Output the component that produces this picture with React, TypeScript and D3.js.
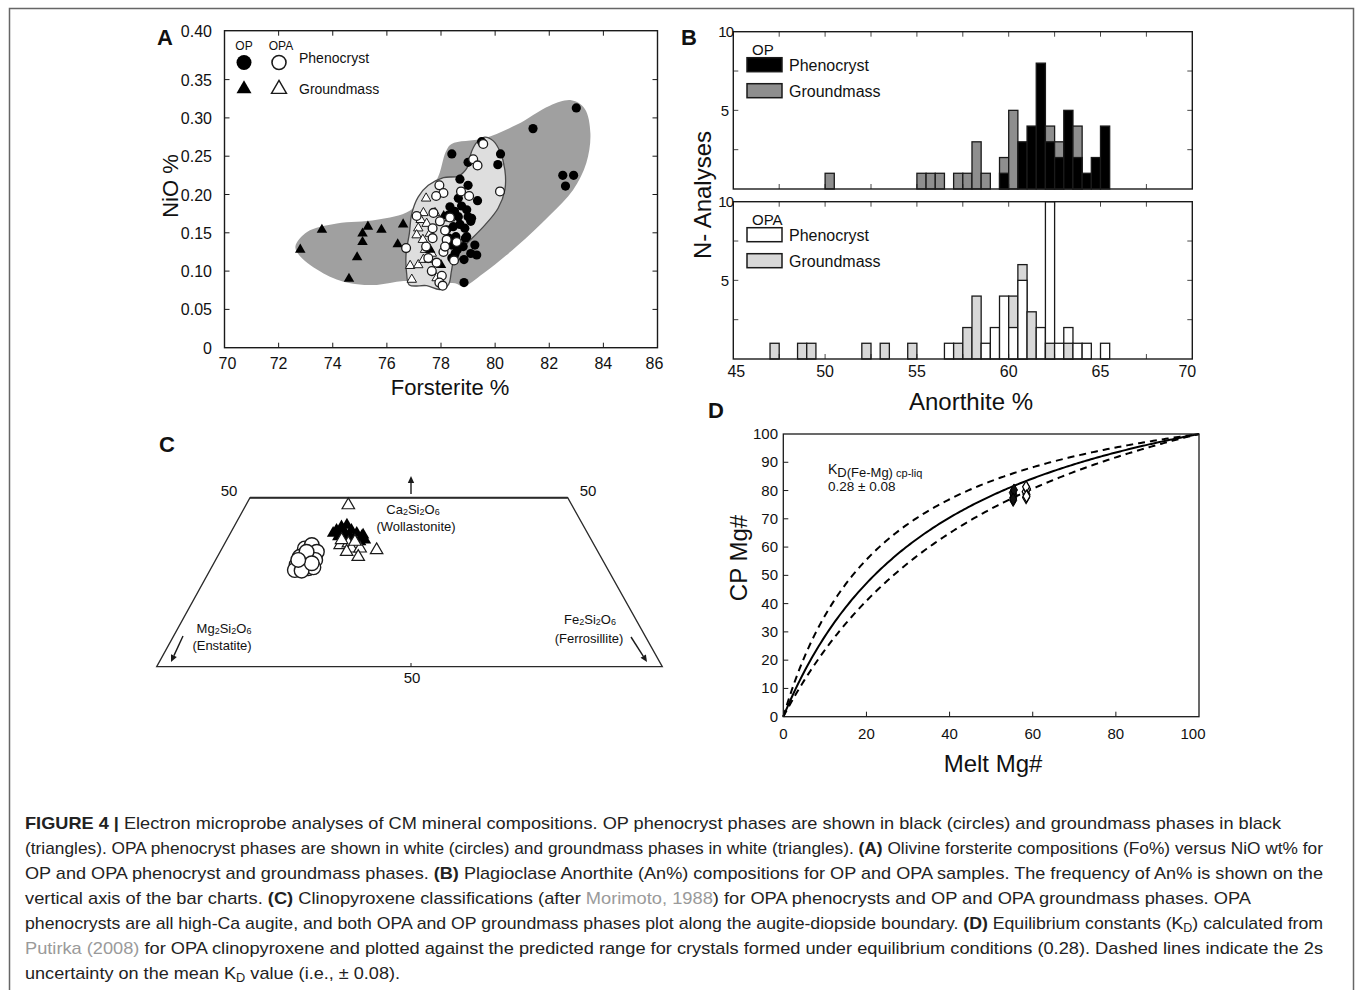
import * as d3 from "d3";

const FONT = "'Liberation Sans', Arial, Helvetica, sans-serif";
const INK = "#1a1a1a";

// ---------- A: olivine forsterite vs NiO ----------
// [Fo %, NiO %]
const opPhenocrystA = [
  [81.4, 0.286], [83.0, 0.313], [82.5, 0.225], [82.9, 0.225], [82.6, 0.211],
  [78.4, 0.253], [79.5, 0.269], [80.2, 0.253], [80.1, 0.239], [79.0, 0.242],
  [78.7, 0.22], [79.0, 0.212], [79.35, 0.192], [79.0, 0.171], [79.1, 0.165],
  [78.9, 0.143], [79.1, 0.123], [78.85, 0.115], [78.85, 0.085],
  [78.76, 0.185], [78.95, 0.18], [78.64, 0.171], [79.13, 0.169], [78.88, 0.156],
  [78.45, 0.158], [78.55, 0.145], [78.95, 0.145], [78.82, 0.132], [78.39, 0.134],
  [78.52, 0.123], [79.25, 0.134], [79.32, 0.121], [78.27, 0.173], [78.33, 0.184],
  [78.64, 0.195], [78.21, 0.154], [78.5, 0.178], [78.7, 0.161], [78.3, 0.143],
  [78.6, 0.128], [78.4, 0.117],
];
const opGroundmassA = [
  [72.8, 0.128], [73.6, 0.154], [74.6, 0.09], [74.9, 0.118], [75.1, 0.138],
  [75.1, 0.149], [75.3, 0.158], [75.8, 0.154], [76.4, 0.135], [76.6, 0.161],
  [78.0, 0.108], [77.6, 0.128], [78.1, 0.172],
];
const opaPhenocrystA = [
  [79.56, 0.266], [79.19, 0.246], [79.35, 0.238], [80.18, 0.204], [78.74, 0.204],
  [79.04, 0.198], [77.94, 0.212], [78.09, 0.202], [77.82, 0.198], [77.1, 0.172],
  [77.72, 0.176], [77.96, 0.165], [78.33, 0.17], [77.69, 0.156], [78.15, 0.153],
  [77.69, 0.143], [77.45, 0.132], [76.71, 0.13], [78.58, 0.138], [78.09, 0.125],
  [78.48, 0.114], [77.84, 0.111], [77.66, 0.1], [78.03, 0.094], [77.94, 0.085],
  [78.06, 0.081], [77.53, 0.117], [78.21, 0.141], [78.15, 0.132],
];
const opaGroundmassA = [
  [77.45, 0.195], [77.35, 0.176], [77.25, 0.167], [77.16, 0.156], [77.1, 0.147],
  [77.33, 0.141], [77.59, 0.149], [77.47, 0.162], [76.86, 0.107], [77.16, 0.108],
  [77.35, 0.115], [77.57, 0.115], [76.92, 0.089], [77.78, 0.176], [78.33, 0.169],
  [78.52, 0.119], [77.84, 0.091], [77.66, 0.123], [77.41, 0.128],
];
// hand-drawn fields around the OP and OPA data
const opField = [
  [72.62, 0.132], [73.05, 0.151], [74.15, 0.162], [75.63, 0.167], [76.86, 0.179],
  [77.84, 0.219], [78.18, 0.256], [78.39, 0.266], [79.56, 0.273], [80.79, 0.291],
  [82.02, 0.316], [82.82, 0.323], [83.31, 0.312], [83.52, 0.28], [83.37, 0.241],
  [82.88, 0.206], [82.02, 0.173], [80.79, 0.132], [79.56, 0.097], [78.82, 0.08],
  [78.52, 0.084], [77.72, 0.084], [76.61, 0.087], [75.63, 0.082], [74.65, 0.084],
  [73.66, 0.097], [72.8, 0.119],
];
const opaField = [
  [79.62, 0.275], [79.32, 0.268], [79.13, 0.256], [78.95, 0.234], [78.64, 0.224],
  [78.09, 0.222], [77.53, 0.212], [77.16, 0.197], [76.92, 0.175], [76.83, 0.149],
  [76.71, 0.123], [76.73, 0.097], [76.83, 0.082], [77.47, 0.081], [77.96, 0.076],
  [78.27, 0.082], [78.39, 0.101], [78.52, 0.121], [78.95, 0.136], [79.62, 0.16],
  [80.11, 0.182], [80.36, 0.206], [80.36, 0.232], [80.18, 0.256], [79.93, 0.27],
];
const foTicks = [70, 72, 74, 76, 78, 80, 82, 84, 86];
const nioTicks = [0, 0.05, 0.1, 0.15, 0.2, 0.25, 0.3, 0.35, 0.4];
const nioLabels = ["0", "0.05", "0.10", "0.15", "0.20", "0.25", "0.30", "0.35", "0.40"];

// ---------- B: plagioclase An% histograms, [bin start, count], bins 0.5 An% ----------
const opPhenocrystB = [
  [59.5, 1], [60.5, 3], [61, 4], [61.5, 8], [62, 3], [62.5, 2], [63, 5], [63.5, 2],
  [64, 1], [64.5, 2], [65, 4],
];
const opGroundmassB = [
  [50, 1], [55, 1], [55.5, 1], [56, 1], [57, 1], [57.5, 1], [58, 3], [58.5, 1],
  [59.5, 2], [60, 5], [62, 4], [62.5, 3], [63.5, 4],
];
const opaPhenocrystB = [
  [56.5, 1], [58.5, 1], [59, 2], [59.5, 4], [60, 2], [60.5, 5], [61.5, 2], [62, 10],
  [62.5, 1], [63, 2], [63.5, 1], [64, 1], [65, 1],
];
const opaGroundmassB = [
  [47, 1], [48.5, 1], [49, 1], [52, 1], [53, 1], [54.5, 1], [57, 1], [57.5, 2],
  [58, 4], [60, 4], [60.5, 6], [61, 3], [62, 1], [63, 1],
];
const anLabels = [45, 50, 55, 60, 65, 70];
const anMinorTicks = [47.5, 50, 52.5, 55, 57.5, 60, 62.5, 65, 67.5];
const countLabels = [5, 10];
const countTicks = [2.5, 5, 7.5];

// ---------- C: pyroxene quadrilateral, [Wo, En, Fs] ----------
const opaPhenocrystC = [
  [35.0, 50.6, 14.4], [36.0, 48.8, 15.2], [34.0, 49.1, 16.9], [32.5, 53.0, 14.5],
  [32.5, 51.5, 16.0], [31.6, 50.8, 17.6], [30.6, 53.5, 15.9], [30.1, 55.0, 14.9],
  [29.1, 53.5, 17.4], [29.4, 52.4, 18.2], [28.6, 56.2, 15.2], [28.4, 55.1, 16.5],
  [34.0, 50.9, 15.1], [30.6, 52.0, 17.4], [31.6, 53.8, 14.6],
];
const opGroundmassC = [
  [40.4, 42.0, 17.6], [41.4, 40.6, 18.0], [41.9, 39.4, 18.7], [40.4, 39.5, 20.1],
  [39.5, 39.1, 21.4], [38.5, 38.8, 22.7], [37.5, 38.8, 23.7], [38.5, 42.8, 18.7],
  [39.0, 41.4, 19.6], [38.5, 40.8, 20.7], [37.5, 40.5, 22.0], [37.0, 39.9, 23.1],
  [39.5, 43.1, 17.4], [40.4, 40.9, 18.7], [39.0, 38.3, 22.7],
];
const opaGroundmassC = [
  [47.8, 35.8, 16.4], [34.5, 38.4, 27.1], [36.0, 43.9, 20.1], [36.5, 42.2, 21.3],
  [35.0, 42.5, 22.5], [35.0, 41.0, 24.0], [34.0, 43.9, 22.1], [32.5, 42.7, 24.8],
  [37.5, 42.8, 19.7], [37.0, 40.8, 22.2],
];

// ---------- D: Fe-Mg exchange, [melt Mg#, cpx Mg#] ----------
const kdMean = 0.28;
const kdUncertainty = 0.08;
const opaCpxLowMelt = [
  [55.3, 76.5], [55.3, 77.5], [55.4, 78.5], [55.2, 79.3], [55.5, 80.2], [55.3, 77.0],
];
const opaCpxHighMelt = [
  [58.4, 77.5], [58.5, 78.6], [58.3, 79.6], [58.6, 80.6], [58.4, 81.3], [58.5, 78.0],
];
const mgTicks = [0, 20, 40, 60, 80, 100];
const cpTicks = [0, 10, 20, 30, 40, 50, 60, 70, 80, 90, 100];

// ---------- caption ----------
type Seg = { t: string; s?: "b" | "link" | "sub" };
const captionLines: { segs: Seg[]; width: number }[] = [
  { width: 1256, segs: [{ t: "FIGURE 4 | ", s: "b" }, { t: "Electron microprobe analyses of CM mineral compositions. OP phenocryst phases are shown in black (circles) and groundmass phases in black" }] },
  { width: 1298, segs: [{ t: "(triangles). OPA phenocryst phases are shown in white (circles) and groundmass phases in white (triangles). " }, { t: "(A)", s: "b" }, { t: " Olivine forsterite compositions (Fo%) versus NiO wt% for" }] },
  { width: 1298, segs: [{ t: "OP and OPA phenocryst and groundmass phases. " }, { t: "(B)", s: "b" }, { t: " Plagioclase Anorthite (An%) compositions for OP and OPA samples. The frequency of An% is shown on the" }] },
  { width: 1226, segs: [{ t: "vertical axis of the bar charts. " }, { t: "(C)", s: "b" }, { t: " Clinopyroxene classifications (after " }, { t: "Morimoto, 1988", s: "link" }, { t: ") for OPA phenocrysts and OP and OPA groundmass phases. OPA" }] },
  { width: 1298, segs: [{ t: "phenocrysts are all high-Ca augite, and both OPA and OP groundmass phases plot along the augite-diopside boundary. " }, { t: "(D)", s: "b" }, { t: " Equilibrium constants (K" }, { t: "D", s: "sub" }, { t: ") calculated from" }] },
  { width: 1298, segs: [{ t: "Putirka (2008)", s: "link" }, { t: " for OPA clinopyroxene and plotted against the predicted range for crystals formed under equilibrium conditions (0.28). Dashed lines indicate the 2s" }] },
  { width: 375, segs: [{ t: "uncertainty on the mean K" }, { t: "D", s: "sub" }, { t: " value (i.e., ± 0.08)." }] },
];

const triPath = (side: number) =>
  d3.symbol().type(d3.symbolTriangle).size((side * side * Math.sqrt(3)) / 4)() as string;

function PanelA() {
  const x = d3.scaleLinear().domain([70, 86]).range([224.5, 657.5]);
  const y = d3.scaleLinear().domain([0, 0.4]).range([347.7, 41.3]);
  const top = 30.7;
  const [x0, x1] = x.range();
  const bottom = y(0);
  const blob = d3
    .line<number[]>()
    .x((d) => x(d[0]))
    .y((d) => y(d[1]))
    .curve(d3.curveCatmullRomClosed.alpha(0.5));
  const tri = triPath(10.5);
  const triOpen = triPath(9.5);
  const bigTri = triPath(15);
  return (
    <g>
      <path d={blob(opField) as string} fill="#a0a0a0" />
      <path d={blob(opaField) as string} fill="#dedede" stroke="#4a4a4a" strokeWidth={1.3} />
      {opaGroundmassA.map((d, i) => (
        <path key={"og" + i} d={triOpen} transform={`translate(${x(d[0])},${y(d[1])})`} fill="#fff" stroke={INK} strokeWidth={1} />
      ))}
      {opGroundmassA.map((d, i) => (
        <path key={"bg" + i} d={tri} transform={`translate(${x(d[0])},${y(d[1])})`} fill="#000" />
      ))}
      {opPhenocrystA.map((d, i) => (
        <circle key={"bp" + i} cx={x(d[0])} cy={y(d[1])} r={4.6} fill="#000" />
      ))}
      {opaPhenocrystA.map((d, i) => (
        <circle key={"op" + i} cx={x(d[0])} cy={y(d[1])} r={4.4} fill="#fff" stroke={INK} strokeWidth={1.3} />
      ))}
      <rect x={x0} y={top} width={x1 - x0} height={bottom - top} fill="none" stroke={INK} strokeWidth={1.4} />
      {foTicks.slice(1, -1).map((v) => (
        <g key={"fx" + v}>
          <line x1={x(v)} x2={x(v)} y1={bottom} y2={bottom - 5} stroke={INK} />
          <line x1={x(v)} x2={x(v)} y1={top} y2={top + 5} stroke={INK} />
        </g>
      ))}
      {nioTicks.slice(1, -1).map((v) => (
        <g key={"ny" + v}>
          <line x1={x0} x2={x0 + 5} y1={y(v)} y2={y(v)} stroke={INK} />
          <line x1={x1} x2={x1 - 5} y1={y(v)} y2={y(v)} stroke={INK} />
        </g>
      ))}
      {foTicks.map((v) => (
        <text key={"fl" + v} x={x(v) + (v === 70 ? 3 : v === 86 ? -3 : 0)} y={369} textAnchor="middle" fontSize={16}>
          {v}
        </text>
      ))}
      {nioTicks.map((v, i) => (
        <text key={"nl" + v} x={212} y={(i === nioTicks.length - 1 ? top : y(v)) + 6} textAnchor="end" fontSize={16}>
          {nioLabels[i]}
        </text>
      ))}
      <text x={450} y={395} textAnchor="middle" fontSize={22}>Forsterite %</text>
      <text transform="translate(178,186) rotate(-90)" textAnchor="middle" fontSize={22}>NiO %</text>
      <text x={157} y={45} fontSize={22} fontWeight="bold">A</text>
      {/* legend */}
      <text x={244} y={50} textAnchor="middle" fontSize={12}>OP</text>
      <text x={281} y={50} textAnchor="middle" fontSize={12}>OPA</text>
      <circle cx={244} cy={62.5} r={7.5} fill="#000" />
      <circle cx={279} cy={62.5} r={7} fill="#fff" stroke={INK} strokeWidth={1.6} />
      <path d={bigTri} transform="translate(244,89)" fill="#000" />
      <path d={bigTri} transform="translate(279,89)" fill="#fff" stroke={INK} strokeWidth={1.4} />
      <text x={299} y={63} fontSize={14}>Phenocryst</text>
      <text x={299} y={94} fontSize={14}>Groundmass</text>
    </g>
  );
}

function Histogram(props: {
  top: number;
  bottom: number;
  pheno: number[][];
  ground: number[][];
  phenoFill: string;
  groundFill: string;
  group: string;
}) {
  const { top, bottom, pheno, ground, phenoFill, groundFill, group } = props;
  const x = d3.scaleLinear().domain([45, 70]).range([733.3, 1192.3]);
  const y = d3.scaleLinear().domain([0, 10]).range([bottom, top]);
  const pm = new Map(pheno.map((d) => [d[0], d[1]] as [number, number]));
  const gm = new Map(ground.map((d) => [d[0], d[1]] as [number, number]));
  const bins = Array.from(new Set([...pm.keys(), ...gm.keys()])).sort(d3.ascending);
  const [x0, x1] = x.range();
  const lx = 747;
  const ly = top + 20;
  return (
    <g>
      {bins.map((b) => {
        // overlapping bars: the taller one behind, the shorter one in front
        const layers = [
          { v: pm.get(b) || 0, fill: phenoFill },
          { v: gm.get(b) || 0, fill: groundFill },
        ]
          .filter((l) => l.v > 0)
          .sort((a, c) => c.v - a.v);
        return layers.map((l, j) => (
          <rect
            key={b + "-" + j}
            x={x(b)}
            y={y(l.v)}
            width={x(b + 0.5) - x(b)}
            height={y(0) - y(l.v)}
            fill={l.fill}
            stroke={INK}
            strokeWidth={1.3}
          />
        ));
      })}
      <rect x={x0} y={top} width={x1 - x0} height={bottom - top} fill="none" stroke={INK} strokeWidth={1.4} />
      {anMinorTicks.map((v) => (
        <g key={"t" + v}>
          <line x1={x(v)} x2={x(v)} y1={top} y2={top + 5} stroke={INK} strokeWidth={0.8} />
          <line x1={x(v)} x2={x(v)} y1={bottom} y2={bottom - 5} stroke={INK} strokeWidth={0.8} />
        </g>
      ))}
      {countTicks.map((v) => (
        <g key={"c" + v}>
          <line x1={x0} x2={x0 + 5} y1={y(v)} y2={y(v)} stroke={INK} strokeWidth={0.8} />
          <line x1={x1} x2={x1 - 5} y1={y(v)} y2={y(v)} stroke={INK} strokeWidth={0.8} />
        </g>
      ))}
      {countLabels.map((v) => (
        <text key={"cl" + v} x={v === 10 ? 733 : 729} y={y(v) + 5.5} textAnchor="end" fontSize={15} letterSpacing={v === 10 ? -1 : 0}>
          {v}
        </text>
      ))}
      <text x={lx + 5} y={ly + 3} fontSize={15}>{group}</text>
      <rect x={lx} y={ly + 6} width={35} height={14} fill={phenoFill} stroke={INK} strokeWidth={1.5} />
      <text x={lx + 42} y={ly + 19} fontSize={16}>Phenocryst</text>
      <rect x={lx} y={ly + 32} width={35} height={14} fill={groundFill} stroke={INK} strokeWidth={1.5} />
      <text x={lx + 42} y={ly + 45} fontSize={16}>Groundmass</text>
    </g>
  );
}

function PanelB() {
  const x = d3.scaleLinear().domain([45, 70]).range([733.3, 1192.3]);
  return (
    <g>
      <Histogram top={31.7} bottom={189} pheno={opPhenocrystB} ground={opGroundmassB} phenoFill="#000" groundFill="#8e8e8e" group="OP" />
      <Histogram top={201.7} bottom={359} pheno={opaPhenocrystB} ground={opaGroundmassB} phenoFill="#fff" groundFill="#d8d8d8" group="OPA" />
      {anLabels.map((v) => (
        <text key={v} x={x(v) + (v === 45 ? 3 : v === 70 ? -5 : 0)} y={377} textAnchor="middle" fontSize={16}>
          {v}
        </text>
      ))}
      <text x={971} y={410} textAnchor="middle" fontSize={24}>Anorthite %</text>
      <text transform="translate(711,195) rotate(-90)" textAnchor="middle" fontSize={24}>N- Analyses</text>
      <text x={681} y={45} fontSize={22} fontWeight="bold">B</text>
    </g>
  );
}

function Arrow({ x1, y1, x2, y2 }: { x1: number; y1: number; x2: number; y2: number }) {
  const a = Math.atan2(y2 - y1, x2 - x1);
  const L = 7;
  const W = 3.2;
  const bx = x2 - L * Math.cos(a);
  const by = y2 - L * Math.sin(a);
  const px = -Math.sin(a) * W;
  const py = Math.cos(a) * W;
  return (
    <g>
      <line x1={x1} y1={y1} x2={bx} y2={by} stroke={INK} strokeWidth={1.4} />
      <path d={`M${x2},${y2}L${bx + px},${by + py}L${bx - px},${by - py}Z`} fill={INK} />
    </g>
  );
}

function Formula({ x, y, parts }: { x: number; y: number; parts: string[] }) {
  // parts alternate element symbol and subscript digit
  return (
    <text x={x} y={y} textAnchor="middle" fontSize={13}>
      {parts.map((p, i) =>
        i % 2 === 0 ? (
          <tspan key={i} dy={i > 0 ? -1 : 0}>{p}</tspan>
        ) : (
          <tspan key={i} fontSize={9} dy={1}>{p}</tspan>
        )
      )}
    </text>
  );
}

function PanelC() {
  const yRow = d3.scaleLinear().domain([0, 50]).range([666.7, 497.7]);
  const leftX = d3.scaleLinear().domain([0, 50]).range([156.7, 250]);
  const rightX = d3.scaleLinear().domain([0, 50]).range([662.3, 567.7]);
  const proj = (d: number[]) => {
    const f = d[2] / (d[1] + d[2]);
    const l = leftX(d[0]);
    const r = rightX(d[0]);
    return [l + (r - l) * f, yRow(d[0])];
  };
  const tri = triPath(12.5);
  const corners = [
    [leftX(50), yRow(50)],
    [rightX(50), yRow(50)],
    [rightX(0), yRow(0)],
    [leftX(0), yRow(0)],
  ];
  return (
    <g>
      <path d={"M" + corners.map((c) => c.join(",")).join("L") + "Z"} fill="none" stroke="#2a2a2a" strokeWidth={1.3} />
      <line x1={leftX(50)} x2={rightX(50)} y1={yRow(50)} y2={yRow(50)} stroke="#2a2a2a" strokeWidth={2} />
      {opaPhenocrystC.map((d, i) => {
        const [px, py] = proj(d);
        return <circle key={"c" + i} cx={px} cy={py} r={7.3} fill="#fff" stroke={INK} strokeWidth={1.4} />;
      })}
      {opGroundmassC.map((d, i) => {
        const [px, py] = proj(d);
        return <path key={"t" + i} d={tri} transform={`translate(${px},${py})`} fill="#000" />;
      })}
      {opaGroundmassC.map((d, i) => {
        const [px, py] = proj(d);
        return <path key={"o" + i} d={tri} transform={`translate(${px},${py})`} fill="#fff" stroke={INK} strokeWidth={1.2} />;
      })}
      <text x={229} y={496} textAnchor="middle" fontSize={15}>50</text>
      <text x={588} y={496} textAnchor="middle" fontSize={15}>50</text>
      <text x={412} y={683} textAnchor="middle" fontSize={15}>50</text>
      <line x1={411} x2={411} y1={666.7} y2={663} stroke={INK} />
      <Arrow x1={411} y1={494} x2={411} y2={476} />
      <Arrow x1={183} y1={636} x2={171} y2={662} />
      <Arrow x1={631} y1={637} x2={647} y2={662} />
      <Formula x={413} y={514} parts={["Ca", "2", "Si", "2", "O", "6"]} />
      <text x={416} y={531} textAnchor="middle" fontSize={13}>(Wollastonite)</text>
      <Formula x={224} y={633} parts={["Mg", "2", "Si", "2", "O", "6"]} />
      <text x={222} y={650} textAnchor="middle" fontSize={13}>(Enstatite)</text>
      <Formula x={590} y={624} parts={["Fe", "2", "Si", "2", "O", "6"]} />
      <text x={589} y={643} textAnchor="middle" fontSize={13}>(Ferrosillite)</text>
      <text x={159} y={452} fontSize={22} fontWeight="bold">C</text>
    </g>
  );
}

function PanelD() {
  const x = d3.scaleLinear().domain([0, 100]).range([783.3, 1199]);
  const y = d3.scaleLinear().domain([0, 100]).range([716.7, 434]);
  const [x0, x1] = x.range();
  const [y0, y1] = y.range();
  // equilibrium cpx Mg# for a melt Mg# m and exchange coefficient kd
  const cpx = (m: number, kd: number) => (m <= 0 ? 0 : 100 / (1 + (kd * (100 - m)) / m));
  const melt = d3.range(0, 100.01, 0.5);
  const curve = (kd: number) =>
    d3
      .line<number>()
      .x((m) => x(m))
      .y((m) => y(cpx(m, kd)))(melt) as string;
  const diamond = d3.symbol().type(d3.symbolDiamond).size(42)() as string;
  return (
    <g>
      <path d={curve(kdMean)} fill="none" stroke="#000" strokeWidth={2} />
      <path d={curve(kdMean - kdUncertainty)} fill="none" stroke="#000" strokeWidth={2} strokeDasharray="7,5" />
      <path d={curve(kdMean + kdUncertainty)} fill="none" stroke="#000" strokeWidth={2} strokeDasharray="7,5" />
      {opaCpxLowMelt.map((d, i) => (
        <path key={"l" + i} d={diamond} transform={`translate(${x(d[0])},${y(d[1])})`} fill="#111" stroke="#000" strokeWidth={1} />
      ))}
      {opaCpxHighMelt.map((d, i) => (
        <path key={"h" + i} d={diamond} transform={`translate(${x(d[0])},${y(d[1])})`} fill="#fff" stroke="#000" strokeWidth={1.2} />
      ))}
      <rect x={x0} y={y1} width={x1 - x0} height={y0 - y1} fill="none" stroke={INK} strokeWidth={1.3} />
      {mgTicks.slice(1, -1).map((v) => (
        <line key={"xt" + v} x1={x(v)} x2={x(v)} y1={y0} y2={y0 - 5} stroke={INK} />
      ))}
      {cpTicks.slice(1, -1).map((v) => (
        <line key={"yt" + v} x1={x0} x2={x0 + 5} y1={y(v)} y2={y(v)} stroke={INK} />
      ))}
      {mgTicks.map((v) => (
        <text key={"xl" + v} x={x(v) - (v === 100 ? 6 : 0)} y={739} textAnchor="middle" fontSize={15}>
          {v}
        </text>
      ))}
      {cpTicks.map((v) => (
        <text key={"yl" + v} x={778} y={y(v) + 5} textAnchor="end" fontSize={15}>
          {v}
        </text>
      ))}
      <text x={828} y={474} fontSize={14}>
        K<tspan fontSize={13} dy={3}>D(Fe-Mg)</tspan>
        <tspan fontSize={11}> cp-liq</tspan>
      </text>
      <text x={828} y={491} fontSize={13.5}>0.28 ± 0.08</text>
      <text x={993} y={772} textAnchor="middle" fontSize={24}>Melt Mg#</text>
      <text transform="translate(747,558) rotate(-90)" textAnchor="middle" fontSize={24}>CP Mg#</text>
      <text x={708} y={418} fontSize={22} fontWeight="bold">D</text>
    </g>
  );
}

function Caption() {
  return (
    <g fill="#222">
      {captionLines.map((line, i) => (
        <text key={i} x={25} y={829 + i * 25} fontSize={17} textLength={line.width} lengthAdjust="spacingAndGlyphs">
          {line.segs.map((s, j) =>
            s.s === "b" ? (
              <tspan key={j} fontWeight="bold">{s.t}</tspan>
            ) : s.s === "link" ? (
              <tspan key={j} fill="#9a9a9a">{s.t}</tspan>
            ) : s.s === "sub" ? (
              <tspan key={j} fontSize={12} dy={3}>
                {s.t}
              </tspan>
            ) : (
              <tspan key={j} dy={j > 0 && line.segs[j - 1].s === "sub" ? -3 : 0}>
                {s.t}
              </tspan>
            )
          )}
        </text>
      ))}
    </g>
  );
}

export default function App() {
  return (
    <svg
      width={1355}
      height={990}
      viewBox="0 0 1355 990"
      style={{ position: "absolute", left: 0, top: 0, background: "#fff" }}
      fontFamily={FONT}
      fill="#111"
    >
      <rect x={0} y={0} width={1355} height={990} fill="#fff" />
      <rect x={9.5} y={8.5} width={1344} height={1000} fill="none" stroke="#666" strokeWidth={1.5} />
      <PanelA />
      <PanelB />
      <PanelC />
      <PanelD />
      <Caption />
    </svg>
  );
}
